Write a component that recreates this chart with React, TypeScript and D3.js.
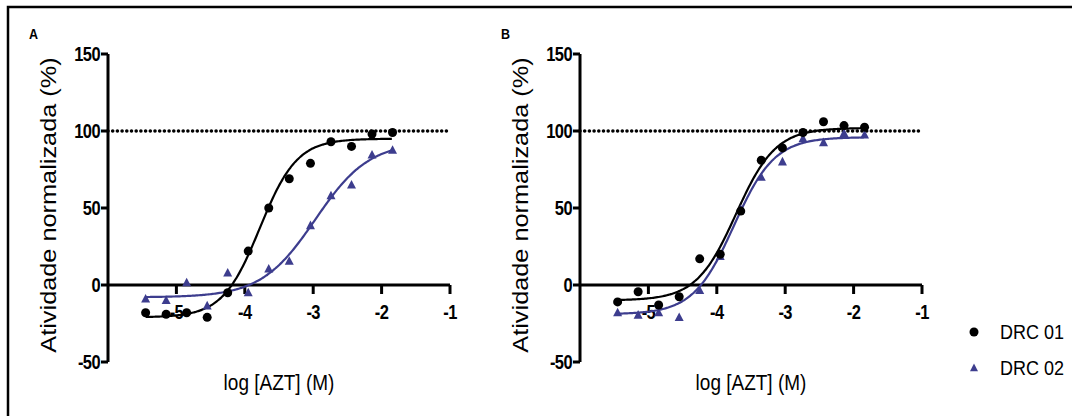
import React from "react";
import * as d3 from "d3";

// log [AZT] (M) for each well, shared by both panels
const logDose = [-5.45, -5.15, -4.85, -4.55, -4.25, -3.95, -3.65, -3.35, -3.04, -2.74, -2.44, -2.14, -1.84];

// normalized activity (%)
const drc01A = [-18, -19, -18, -21, -5, 22, 50, 69, 79, 93, 90, 98, 99];
const drc02A = [-9, -10, 1.5, -13.5, 7.8, -5, 10.5, 15.5, 38.6, 58, 65, 84.5, 87.5];
const drc01B = [-11, -4.4, -13, -7.6, 17, 20, 48, 81, 89, 99, 106, 103.5, 102.5];
const drc02B = [-18, -19.5, -18, -21, -3.5, 18.5, 49, 70, 80, 95, 92.5, 98.5, 97.5];

// 4PL fits: [bottom, top, logEC50, hill]
const fit01A = [-21, 95, -3.78, 1.6];
const fit02A = [-8, 93, -2.97, 1.1];
const fit01B = [-10, 102, -3.72, 1.5];
const fit02B = [-19, 96, -3.75, 1.46];

const xTicks = [-5, -4, -3, -2, -1];
const yTicks = [-50, 0, 50, 100, 150];
const legendLabels = ["DRC 01", "DRC 02"];

const BLUE = "#3d3d8e";
const FONT = "'Liberation Sans', Arial, sans-serif";

const fourPL = (p: number[], x: number) =>
  p[0] + (p[1] - p[0]) / (1 + Math.pow(10, (p[2] - x) * p[3]));

const triangle = (cx: number, cy: number, s = 9) =>
  `M${cx},${cy - s * 0.55}L${cx + s / 2},${cy + s * 0.4}L${cx - s / 2},${cy + s * 0.4}Z`;

// the source picture is a bit stretched vertically, so text is too
const Tall = ({ x, y, k = 1.15, children, ...rest }: any) => (
  <text transform={`translate(${x},${y}) scale(1,${k})`} fontFamily={FONT} {...rest}>
    {children}
  </text>
);

type PanelProps = {
  left: number;
  label: string;
  s1: number[];
  s2: number[];
  f1: number[];
  f2: number[];
};

const Panel = ({ left, label, s1, s2, f1, f2 }: PanelProps) => {
  const x = d3.scaleLinear().domain([-6, -1]).range([left, left + 342]);
  const y = d3.scaleLinear().domain([-50, 150]).range([362, 54]);

  const xs = d3.range(logDose[0], logDose[logDose.length - 1] + 0.001, 0.02);
  const line = d3
    .line<number>()
    .x((d) => x(d))
    .curve(d3.curveBasis);
  const curve = (p: number[]) => line.y((d) => y(fourPL(p, d)))(xs) || "";

  return (
    <g>
      <Tall x={left - 79} y={39} fontWeight="bold" fontSize={12.5}>
        {label}
      </Tall>

      {/* y axis */}
      <line x1={x(-6)} x2={x(-6)} y1={y(150)} y2={y(-50)} stroke="#000" strokeWidth={3} />
      {yTicks.map((t) => (
        <g key={t}>
          <line x1={x(-6) - 7} x2={x(-6)} y1={y(t)} y2={y(t)} stroke="#000" strokeWidth={3} />
          <Tall
            x={x(-6) - 8}
            y={y(t) + 6.5}
            k={1.18}
            textAnchor="end"
            fontWeight="bold"
            fontSize={16.5}
            letterSpacing={-0.6}
          >
            {t}
          </Tall>
        </g>
      ))}

      {/* x axis at y = 0 */}
      <line x1={x(-6)} x2={x(-1)} y1={y(0)} y2={y(0)} stroke="#000" strokeWidth={3} />
      {xTicks.map((t) => (
        <g key={t}>
          <line x1={x(t)} x2={x(t)} y1={y(0)} y2={y(0) + 9} stroke="#000" strokeWidth={3} />
          <Tall
            x={x(t)}
            y={319}
            k={1.18}
            textAnchor="middle"
            fontWeight="bold"
            fontSize={16.5}
            letterSpacing={-0.6}
          >
            {t}
          </Tall>
        </g>
      ))}

      <text
        transform={`translate(${left - 52},205) rotate(-90) scale(1.12,1)`}
        textAnchor="middle"
        fontFamily={FONT}
        fontSize={22.6}
      >
        Atividade normalizada (%)
      </text>
      <Tall x={(x(-6) + x(-1)) / 2} y={390} k={1.12} textAnchor="middle" fontSize={19}>
        log [AZT] (M)
      </Tall>

      {/* 100% reference */}
      <line
        x1={x(-6)}
        x2={x(-1)}
        y1={y(100)}
        y2={y(100)}
        stroke="#000"
        strokeWidth={3.6}
        strokeLinecap="round"
        strokeDasharray="0 4.7"
      />

      <path d={curve(f2)} fill="none" stroke={BLUE} strokeWidth={2.2} />
      <path d={curve(f1)} fill="none" stroke="#000" strokeWidth={2.2} />

      {s2.map((v, i) => (
        <path key={"t" + i} d={triangle(x(logDose[i]), y(v))} fill={BLUE} />
      ))}
      {s1.map((v, i) => (
        <circle key={"c" + i} cx={x(logDose[i])} cy={y(v)} r={4.5} fill="#000" />
      ))}
    </g>
  );
};

export default function App() {
  return (
    <svg
      width={1072}
      height={416}
      style={{ position: "fixed", left: 0, top: 0, background: "#fff" }}
    >
      <rect width={1072} height={416} fill="#fff" />
      <path d="M8,416V7H1072" fill="none" stroke="#000" strokeWidth={2.5} />

      <Panel left={108} label="A" s1={drc01A} s2={drc02A} f1={fit01A} f2={fit02A} />
      <Panel left={580} label="B" s1={drc01B} s2={drc02B} f1={fit01B} f2={fit02B} />

      {legendLabels.map((l, i) => (
        <g key={l}>
          {i === 0 ? (
            <circle cx={974} cy={332} r={4.5} fill="#000" />
          ) : (
            <path d={triangle(974, 368, 8)} fill={BLUE} />
          )}
          <Tall x={1000} y={332 + i * 36 + 7} k={1.12} fontSize={18}>
            {l}
          </Tall>
        </g>
      ))}
    </svg>
  );
}
